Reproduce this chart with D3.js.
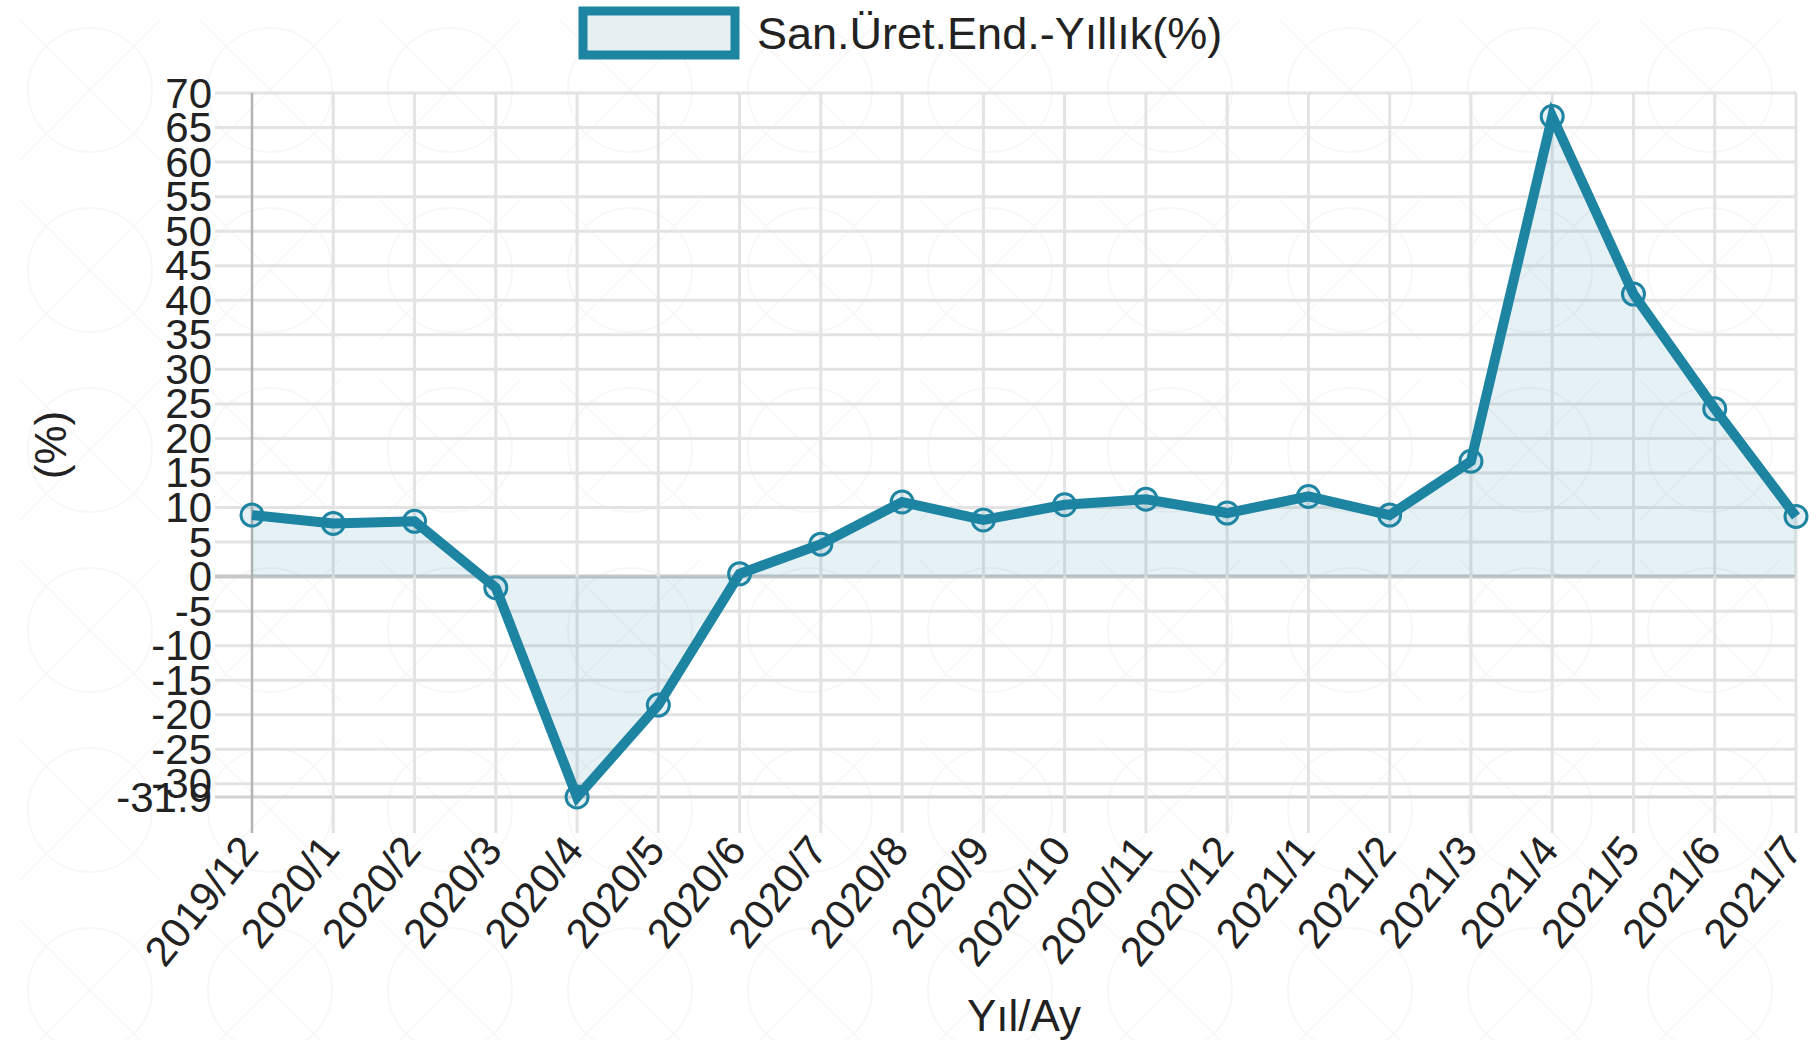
<!DOCTYPE html>
<html>
<head>
<meta charset="utf-8">
<script src="https://cdn.jsdelivr.net/npm/d3@7"></script>
<style>
  html, body { margin: 0; padding: 0; background: #ffffff; }
  svg { display: block; font-family: "Liberation Sans", Arial, sans-serif; }
</style>
</head>
<body>
<svg id="chart" width="1818" height="1040"></svg>
<script>
// ---- data ----
const categories = ["2019/12","2020/1","2020/2","2020/3","2020/4","2020/5","2020/6","2020/7","2020/8","2020/9","2020/10","2020/11","2020/12","2021/1","2021/2","2021/3","2021/4","2021/5","2021/6","2021/7"];
const values = [8.9, 7.7, 8.0, -1.6, -31.9, -18.6, 0.4, 4.7, 10.8, 8.2, 10.4, 11.2, 9.2, 11.6, 8.9, 16.7, 66.6, 40.9, 24.3, 8.7];
const seriesName = "San.Üret.End.-Yıllık(%)";
const yTickValues = [70, 65, 60, 55, 50, 45, 40, 35, 30, 25, 20, 15, 10, 5, 0, -5, -10, -15, -20, -25, -30, -31.9];
const yTickLabels = ["70","65","60","55","50","45","40","35","30","25","20","15","10","5","0","-5","-10","-15","-20","-25","-30","-31.9"];
const xTitle = "Yıl/Ay";
const yTitle = "(%)";

// ---- layout ----
const W = 1818, H = 1040;
const plot = { left: 252, right: 1796, top: 93, bottom: 797 };
const teal = "#1d84a2";
const tealFill = "rgba(29,132,162,0.11)";

const svg = d3.select("#chart");

// very faint decorative background pattern
const defs = svg.append("defs");
const pat = defs.append("pattern").attr("id", "bgpat").attr("patternUnits", "userSpaceOnUse")
  .attr("width", 180).attr("height", 180);
pat.append("circle").attr("cx", 90).attr("cy", 90).attr("r", 62)
  .attr("fill", "none").attr("stroke", "#f7f7f7").attr("stroke-width", 2);
pat.append("path").attr("d", "M20,20 L160,160 M160,20 L20,160")
  .attr("fill", "none").attr("stroke", "#f8f8f8").attr("stroke-width", 2);
svg.append("rect").attr("width", W).attr("height", H).attr("fill", "url(#bgpat)");

const x = d3.scalePoint().domain(categories).range([plot.left, plot.right]);
const y = d3.scaleLinear().domain([d3.min(yTickValues), d3.max(yTickValues)]).range([plot.bottom, plot.top]);

// horizontal gridlines
const hg = svg.append("g");
hg.selectAll("line").data(yTickValues).join("line")
  .attr("x1", 215).attr("x2", plot.right)
  .attr("y1", d => y(d)).attr("y2", d => y(d))
  .attr("stroke", d => (d === 0) ? "#c4c8c9" : (d === d3.min(yTickValues) ? "#d2d2d2" : "#e3e3e3"))
  .attr("stroke-width", d => (d === 0) ? 4 : 3);

// vertical gridlines
const vg = svg.append("g");
vg.selectAll("line").data(categories).join("line")
  .attr("x1", d => x(d)).attr("x2", d => x(d))
  .attr("y1", plot.top).attr("y2", 833)
  .attr("stroke", (d, i) => i === 0 ? "#b4b4b4" : "#e3e3e3")
  .attr("stroke-width", (d, i) => i === 0 ? 2.5 : 3);

// y labels
svg.append("g").selectAll("text").data(yTickValues).join("text")
  .attr("x", 212).attr("y", d => y(d))
  .attr("text-anchor", "end").attr("dominant-baseline", "central")
  .attr("font-size", 42).attr("fill", "#222")
  .text((d, i) => yTickLabels[i]);

// x labels
svg.append("g").selectAll("text").data(categories).join("text")
  .attr("transform", d => `translate(${x(d) - 3},${842}) rotate(-51)`)
  .attr("text-anchor", "end").attr("dominant-baseline", "central")
  .attr("font-size", 42).attr("fill", "#222")
  .text(d => d);

// area
const pts = categories.map((c, i) => ({ c, v: values[i] }));
svg.append("path").datum(pts)
  .attr("d", d3.area().x(d => x(d.c)).y0(y(0)).y1(d => y(d.v)))
  .attr("fill", tealFill);

// line
svg.append("path").datum(pts)
  .attr("d", d3.line().x(d => x(d.c)).y(d => y(d.v)))
  .attr("fill", "none").attr("stroke", teal).attr("stroke-width", 10)
  .attr("stroke-linejoin", "miter");

// points
svg.append("g").selectAll("circle").data(pts).join("circle")
  .attr("cx", d => x(d.c)).attr("cy", d => y(d.v)).attr("r", 11)
  .attr("fill", tealFill).attr("stroke", teal).attr("stroke-width", 3);

// axis titles
svg.append("text").attr("x", (plot.left + plot.right) / 2).attr("y", 1015)
  .attr("text-anchor", "middle").attr("dominant-baseline", "central")
  .attr("font-size", 44).attr("fill", "#222").text(xTitle);
svg.append("text").attr("transform", `translate(50,${(plot.top + plot.bottom) / 2}) rotate(-90)`)
  .attr("text-anchor", "middle").attr("dominant-baseline", "central")
  .attr("font-size", 44).attr("fill", "#222").text(yTitle);

// legend
const lg = svg.append("g");
lg.append("rect").attr("x", 583).attr("y", 11).attr("width", 152).attr("height", 44)
  .attr("fill", "#e6f0f3").attr("stroke", teal).attr("stroke-width", 9);
lg.append("text").attr("x", 757).attr("y", 33)
  .attr("dominant-baseline", "central").attr("font-size", 45).attr("fill", "#222")
  .text(seriesName);
</script>
</body>
</html>
